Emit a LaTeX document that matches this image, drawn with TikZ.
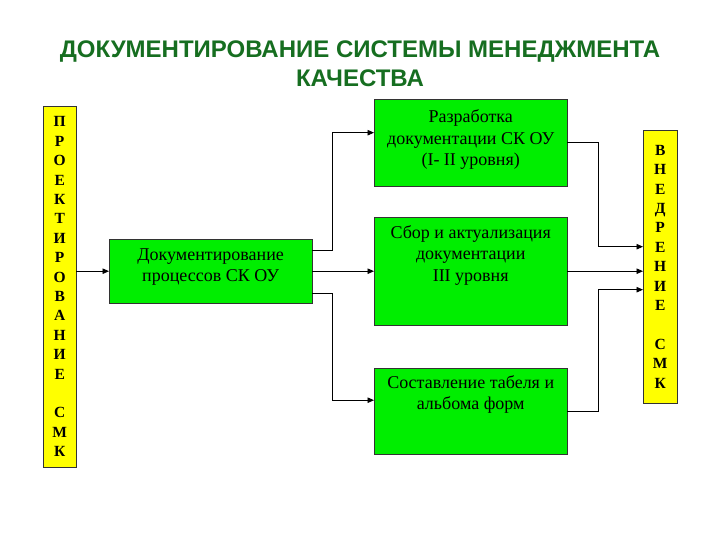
\documentclass[tikz,border=0pt]{standalone}
\usepackage{fontspec}
\setmainfont{Liberation Serif}
\newfontfamily\headfont{Liberation Sans}
\usetikzlibrary{arrows.meta,calc}
\definecolor{boxgreen}{RGB}{0,238,0}
\definecolor{baryellow}{RGB}{255,255,0}
\definecolor{headgreen}{RGB}{22,110,32}
\newcommand{\boxtext}[4]{\parbox[c][#2][t]{#1}{\centering\rule{0pt}{#3}#4}}

\begin{document}
\begin{tikzpicture}[x=1pt,y=-1pt,>={Triangle[length=6.5pt,width=5.5pt]},
  stage/.style={draw=black!80,fill=boxgreen,inner sep=0pt,anchor=north west,font=\fontsize{18}{21.5}\selectfont},
  bar/.style={draw=black!80,fill=baryellow,inner sep=0pt,anchor=north west,align=center,font=\fontsize{15.5}{19.4}\selectfont\bfseries},
  link/.style={->,line width=0.9pt}]
\useasboundingbox (0,0) rectangle (720,540);
\node[font=\headfont\fontsize{24}{28.5}\selectfont\bfseries,text=headgreen,align=center] (title) at (360,63.5) {ДОКУМЕНТИРОВАНИЕ СИСТЕМЫ МЕНЕДЖМЕНТА\\КАЧЕСТВА};
% side bars
\node[bar,minimum width=33,minimum height=361] (design) at (43,106) {П\\Р\\О\\Е\\К\\Т\\И\\Р\\О\\В\\А\\Н\\И\\Е\\[19.4pt]С\\М\\К};
\node[bar,minimum width=34,minimum height=273] (impl) at (643,130) {В\\Н\\Е\\Д\\Р\\Е\\Н\\И\\Е\\[19.4pt]С\\М\\К};
% stages
\node[stage] (docproc) at (109,239) {\boxtext{203pt}{64pt}{21pt}{Документирование\\процессов СК ОУ}};
\node[stage] (dev) at (374,99) {\boxtext{193pt}{87pt}{23.5pt}{Разработка\\документации СК ОУ\\(I- II уровня)}};
\node[stage] (collect) at (374,217) {\boxtext{193pt}{108pt}{21pt}{Сбор и актуализация\\документации\\III уровня}};
\node[stage] (album) at (374,368) {\boxtext{193pt}{86pt}{20pt}{Составление табеля и\\альбома форм}};
% links
\draw[link] (design.east |- docproc.west) -- (docproc.west);
\draw[link] ($(docproc.east)+(0,-21)$) -| ($(dev.west)+(-42,-10)$) -- ($(dev.west)+(0,-10)$);
\draw[link] (docproc.east) -- (docproc.east -| collect.west);
\draw[link] ($(docproc.east)+(0,22)$) -| ($(album.west)+(-42,-11)$) -- ($(album.west)+(0,-11)$);
\draw[link] (dev.east) -- ($(dev.east)+(31,0)$) |- ($(impl.west)+(0,-20)$);
\draw[link] (collect.east) -- (collect.east -| impl.west);
\draw[link] (album.east) -- ($(album.east)+(31,0)$) |- ($(impl.west)+(0,23)$);
\end{tikzpicture}
\end{document}
